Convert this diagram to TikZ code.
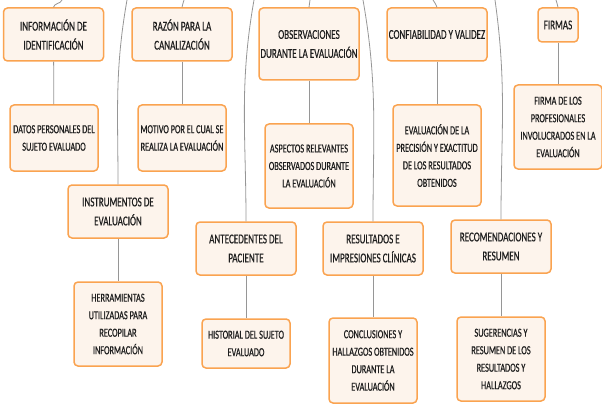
\documentclass[tikz,border=0pt]{standalone}
\usepackage{fontspec}
\setmainfont{Carlito}[FakeStretch=0.67,FakeBold=0.6]
\usetikzlibrary{topaths}
\definecolor{borde}{RGB}{250,163,80}
\definecolor{fondo}{RGB}{253,244,236}
\definecolor{linea}{RGB}{150,150,150}
\definecolor{texto}{RGB}{30,30,30}

\begin{document}
\begin{tikzpicture}[x=1pt,y=-1pt,
  box/.style={draw=borde,fill=fondo,line width=1.5pt,rounded corners=4pt,align=center,text=texto,inner sep=0pt},
  head/.style={box,minimum width=100pt,minimum height=53pt,font=\fontsize{13.5}{19}\selectfont},
  sub/.style={box,minimum width=88pt,font=\fontsize{12.3}{17.5}\selectfont},
  link/.style={draw=linea,line width=0.8pt}]
\useasboundingbox (0,0) rectangle (602,409);
% The headers
\node[head] (h1) at (53.5,34.5) {INFORMACIÓN DE\\IDENTIFICACIÓN};
\node[head] (h2) at (182,34.5) {RAZÓN PARA LA\\CANALIZACIÓN};
\node[head] (h3) at (118,211.5) {INSTRUMENTOS DE\\EVALUACIÓN};
\node[head] (h4) at (246,248.5) {ANTECEDENTES DEL\\PACIENTE};
\node[head,minimum height=72pt] (h5) at (309,44) {OBSERVACIONES\\DURANTE LA EVALUACIÓN};
\node[head] (h6) at (373,248.5) {RESULTADOS E\\IMPRESIONES CLÍNICAS};
\node[head] (h7) at (437,34.5) {CONFIABILIDAD Y VALIDEZ};
\node[head] (h8) at (501,246.5) {RECOMENDACIONES Y\\RESUMEN};
\node[head,minimum width=40pt,minimum height=34pt] (h9) at (558,25) {FIRMAS};
% The details
\node[sub,minimum height=66pt] (s1) at (54,138) {DATOS PERSONALES DEL\\SUJETO EVALUADO};
\node[sub,minimum height=66pt] (s2) at (182,138) {MOTIVO POR EL CUAL SE\\REALIZA LA EVALUACIÓN};
\node[sub,minimum height=84pt] (s3) at (118,324) {HERRAMIENTAS\\UTILIZADAS PARA\\RECOPILAR\\INFORMACIÓN};
\node[sub,minimum height=49pt] (s4) at (246,343.5) {HISTORIAL DEL SUJETO\\EVALUADO};
\node[sub,minimum height=84pt] (s5) at (309,166) {ASPECTOS RELEVANTES\\OBSERVADOS DURANTE\\LA EVALUACIÓN};
\node[sub,minimum height=85pt] (s6) at (373,360.5) {CONCLUSIONES Y\\HALLAZGOS OBTENIDOS\\DURANTE LA\\EVALUACIÓN};
\node[sub,minimum height=101pt] (s7) at (437,155.5) {EVALUACIÓN DE LA\\PRECISIÓN Y EXACTITUD\\DE LOS RESULTADOS\\OBTENIDOS};
\node[sub,minimum height=84pt] (s8) at (501,359) {SUGERENCIAS Y\\RESUMEN DE LOS\\RESULTADOS Y\\HALLAZGOS};
\node[sub,minimum height=84pt] (s9) at (558,127) {FIRMA DE LOS\\PROFESIONALES\\INVOLUCRADOS EN LA\\EVALUACIÓN};
% header to detail
\foreach \i in {1,...,9}
  \draw[link] (h\i) -- (s\i);
% branches coming from the top
\coordinate (c1) at (62,0);
\coordinate (c2) at (184,0);
\coordinate (c3) at (127,0);
\coordinate (c4) at (254,0);
\coordinate (c5) at (310,0);
\coordinate (c6) at (363,0);
\coordinate (c7) at (433,0);
\coordinate (c8) at (495,0);
\coordinate (c9) at (556,0);
\draw[link] (c1) to[out=-110,in=80] (h1.north);
\draw[link] (c2) to[out=-100,in=85] (h2.north);
\draw[link] (c3) to[out=-100,in=90] (h3.north);
\draw[link] (c4) to[out=-100,in=90] (h4.north);
\draw[link] (c5) to[out=-95,in=88] (h5.north);
\draw[link] (c6) to[out=-80,in=90] (h6.north);
\draw[link] (c7) to[out=-70,in=95] (h7.north);
\draw[link] (c8) to[out=-82,in=90] (h8.north);
\draw[link] (c9) to[out=-80,in=95] (h9.north);
\end{tikzpicture}
\end{document}
